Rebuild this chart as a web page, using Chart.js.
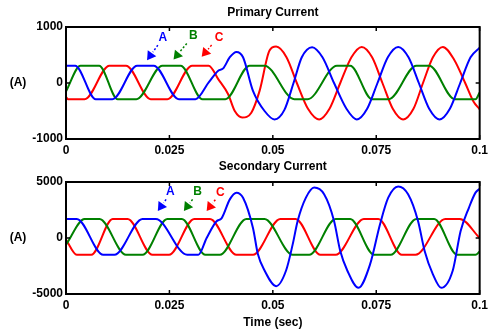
<!DOCTYPE html>
<html>
<head>
<meta charset="utf-8">
<title>Primary / Secondary Current</title>
<script src="https://cdn.jsdelivr.net/npm/chart.js@4.4.1/dist/chart.umd.min.js"></script>
<style>
  html, body { margin: 0; padding: 0; background: #fff; }
  #wrap { position: relative; width: 492px; height: 329px; }
  canvas { position: absolute; left: 0; }
  #cTop { top: 0; }
  #cBot { top: 160px; }
</style>
</head>
<body>
<div id="wrap">
  <canvas id="cTop" width="492" height="160"></canvas>
  <canvas id="cBot" width="492" height="169"></canvas>
</div>
<script>
// axis ticks
const xTicks = [0, 0.025, 0.05, 0.075, 0.1];
const xTickLabels = ['0', '0.025', '0.05', '0.075', '0.1'];
const yTicksTop = [-1000, 0, 1000];
const yTicksBot = [-5000, 0, 5000];

// Primary current (A) - phase A (blue)
const tPA = [0, 0.0022, 0.0072, 0.0112, 0.0172, 0.0212, 0.0273, 0.0313, 0.0345, 0.0368, 0.038, 0.0396, 0.0412, 0.0428, 0.0452, 0.048, 0.0504, 0.0528, 0.055, 0.057, 0.0595, 0.062, 0.0648, 0.0678, 0.0703, 0.0728, 0.0753, 0.0778, 0.0803, 0.0828, 0.0853, 0.0878, 0.0903, 0.0928, 0.0953, 0.0978, 0.1];
const iPA = [310, 310, -290, -290, 310, 310, -290, -290, 10, 220, 260, 460, 555, 460, -140, -500, -650, -480, 0, 460, 640, 460, 0, -460, -650, -460, 0, 460, 645, 460, 0, -460, -650, -460, 0, 460, 630];
// phase B (green)
const tPB = [0, 0.0035, 0.008, 0.0125, 0.017, 0.0233, 0.0277, 0.033, 0.0385, 0.0444, 0.048, 0.0552, 0.0584, 0.0655, 0.0687, 0.074, 0.078, 0.0847, 0.0878, 0.094, 0.099, 0.1];
const iPB = [-150, 310, 310, -290, -290, 310, 310, -290, -290, 310, 310, -290, -290, 310, 310, -290, -290, 310, 310, -290, -290, -170];
// phase C (red)
const tPC = [0, 0.0005, 0.0045, 0.0105, 0.0145, 0.0205, 0.0245, 0.0305, 0.0345, 0.0368, 0.0392, 0.0408, 0.0426, 0.0448, 0.0468, 0.0492, 0.0508, 0.0533, 0.0558, 0.0585, 0.0612, 0.0637, 0.0663, 0.069, 0.0715, 0.074, 0.0765, 0.079, 0.0815, 0.084, 0.0863, 0.0887, 0.0911, 0.0938, 0.0965, 0.0985, 0.1];
const iPC = [-250, -290, -290, 310, 310, -290, -290, 310, 310, 70, -200, -500, -615, -530, -140, 580, 650, 460, 0, -460, -650, -460, 0, 460, 645, 460, 0, -460, -650, -460, 0, 460, 645, 420, 0, -330, -470];

// Secondary current (A) - phase A (blue)
const tSA = [0, 0.0026, 0.009, 0.0117, 0.0185, 0.0217, 0.0293, 0.032, 0.034, 0.0364, 0.0376, 0.0396, 0.0412, 0.0428, 0.0452, 0.0464, 0.048, 0.0508, 0.0532, 0.0548, 0.056, 0.058, 0.06, 0.0624, 0.0648, 0.0663, 0.068, 0.0707, 0.0735, 0.0759, 0.0779, 0.0803, 0.0827, 0.0851, 0.0867, 0.0887, 0.0907, 0.0935, 0.0954, 0.0974, 0.099, 0.1];
const iSA = [1700, 1700, -1500, -1500, 1700, 1700, -1500, -1500, 0, 1500, 1750, 3450, 4050, 3600, 900, -1460, -2900, -4300, -2900, -570, 1520, 3600, 4500, 3900, 1520, -1160, -2900, -4450, -2360, 1210, 3600, 4600, 3900, 1520, -1160, -3250, -4450, -2900, 625, 2700, 4050, 4400];
// phase B (green)
const tSB = [0, 0.0045, 0.0081, 0.0145, 0.0185, 0.0245, 0.028, 0.0337, 0.0372, 0.0436, 0.048, 0.0548, 0.0588, 0.0652, 0.0687, 0.0745, 0.0785, 0.0847, 0.089, 0.0946, 0.099, 0.1];
const iSB = [-600, 1700, 1700, -1500, -1500, 1700, 1700, -1500, -1500, 1700, 1700, -1500, -1500, 1700, 1700, -1500, -1500, 1700, 1700, -1500, -1500, -1200];
// phase C (red)
const tSC = [0, 0.0026, 0.0061, 0.0113, 0.0149, 0.0209, 0.0249, 0.031, 0.0348, 0.0412, 0.0452, 0.0518, 0.0555, 0.0615, 0.0652, 0.072, 0.0755, 0.0812, 0.0845, 0.0917, 0.0952, 0.1];
const iSC = [-150, -1500, -1500, 1700, 1700, -1500, -1500, 1700, 1700, -1500, -1500, 1700, 1700, -1500, -1500, 1700, 1700, -1500, -1500, 1700, 1700, 0];

// arrow labels (data units: [time, current])
const notesTop = [
  { text: 'A', color: '#0000ff', at: [0.0234, 815], from: [0.0222, 677], to: [0.0196, 406] },
  { text: 'B', color: '#008000', at: [0.0308, 839], from: [0.0292, 707], to: [0.0260, 419] },
  { text: 'C', color: '#ff0000', at: [0.0370, 815], from: [0.0352, 677], to: [0.0328, 468] }
];
const notesBot = [
  { text: 'A', color: '#0000ff', at: [0.0252, 4134], from: [0.0242, 3446], to: [0.0222, 2411] },
  { text: 'B', color: '#008000', at: [0.0318, 4134], from: [0.0306, 3446], to: [0.0285, 2411] },
  { text: 'C', color: '#ff0000', at: [0.0373, 4045], from: [0.0361, 3420], to: [0.0340, 2411] }
];

const FAMILY = '"Liberation Sans", Arial, sans-serif';
const FONT = 'bold 12px ' + FAMILY;

const pts = (ts, vs) => ts.map((t, i) => ({ x: t, y: vs[i] }));
const series = (ts, vs, color) => ({
  data: pts(ts, vs), borderColor: color, borderWidth: 2, pointRadius: 0,
  fill: false, cubicInterpolationMode: 'monotone'
});

// frame, inward ticks, titles, arrows
const framePlugin = {
  id: 'frame',
  afterDatasetsDraw(chart, args, opts) {
    const { ctx, chartArea: a } = chart;
    const x = chart.scales.x, y = chart.scales.y;
    const line = (x0, y0, x1, y1) => { ctx.beginPath(); ctx.moveTo(x0, y0); ctx.lineTo(x1, y1); ctx.stroke(); };
    ctx.save();

    (opts.notes || []).forEach(n => {
      const x0 = x.getPixelForValue(n.from[0]), y0 = y.getPixelForValue(n.from[1]);
      const x1 = x.getPixelForValue(n.to[0]), y1 = y.getPixelForValue(n.to[1]);
      const ang = Math.atan2(y1 - y0, x1 - x0), hl = 10;
      ctx.strokeStyle = n.color; ctx.fillStyle = n.color;
      ctx.lineWidth = 1.5; ctx.setLineDash([2, 2]);
      line(x0, y0, x1 - hl * Math.cos(ang), y1 - hl * Math.sin(ang));
      ctx.setLineDash([]);
      ctx.beginPath();
      ctx.moveTo(x1, y1);
      ctx.lineTo(x1 - hl * Math.cos(ang - 0.55), y1 - hl * Math.sin(ang - 0.55));
      ctx.lineTo(x1 - hl * Math.cos(ang + 0.55), y1 - hl * Math.sin(ang + 0.55));
      ctx.closePath(); ctx.fill();
      ctx.font = FONT; ctx.textAlign = 'center'; ctx.textBaseline = 'middle';
      ctx.fillText(n.text, x.getPixelForValue(n.at[0]), y.getPixelForValue(n.at[1]));
    });

    ctx.strokeStyle = '#000'; ctx.lineWidth = 2;
    ctx.strokeRect(a.left, a.top, a.right - a.left, a.bottom - a.top);
    ctx.lineWidth = 1.5;
    x.ticks.forEach(t => {
      const p = x.getPixelForValue(t.value);
      line(p, a.top, p, a.top + 4); line(p, a.bottom, p, a.bottom - 4);
    });
    y.ticks.forEach(t => {
      const p = y.getPixelForValue(t.value);
      line(a.left, p, a.left + 4, p); line(a.right, p, a.right - 4, p);
    });

    ctx.fillStyle = '#000'; ctx.font = FONT;
    ctx.textAlign = 'center'; ctx.textBaseline = 'middle';
    ctx.fillText(opts.title, (a.left + a.right) / 2, a.top - opts.titleGap);
    ctx.fillText('(A)', 18, (a.top + a.bottom) / 2);
    if (opts.xTitle) ctx.fillText(opts.xTitle, (a.left + a.right) / 2, a.bottom + 29);
    ctx.restore();
  }
};

function makeChart(id, sets, yTicks, opts) {
  const yMax = yTicks[yTicks.length - 1];
  return new Chart(document.getElementById(id), {
    type: 'line',
    data: { datasets: sets },
    plugins: [framePlugin],
    options: {
      responsive: false, animation: false, devicePixelRatio: 1,
      layout: { padding: { top: opts.padTop, right: 8, left: 0, bottom: 0 } },
      plugins: {
        legend: { display: false }, tooltip: { enabled: false },
        frame: { notes: opts.notes, title: opts.title, titleGap: opts.titleGap, xTitle: opts.xTitle }
      },
      scales: {
        x: {
          type: 'linear', min: 0, max: 0.1,
          afterBuildTicks: s => { s.ticks = xTicks.map(v => ({ value: v })); },
          afterFit: s => { s.height = opts.xAxisH; },
          grid: { display: false, drawTicks: false }, border: { display: false },
          ticks: {
            callback: v => xTickLabels[xTicks.indexOf(v)],
            color: '#000', font: { family: FAMILY, size: 12, weight: 'bold' },
            padding: 4, maxRotation: 0, autoSkip: false
          }
        },
        y: {
          type: 'linear', min: -yMax, max: yMax,
          afterBuildTicks: s => { s.ticks = yTicks.map(v => ({ value: v })); },
          afterFit: s => { s.width = 66; },
          grid: { display: false, drawTicks: false }, border: { display: false },
          ticks: {
            callback: v => String(v),
            color: '#000', font: { family: FAMILY, size: 12, weight: 'bold' },
            padding: 3, autoSkip: false
          }
        }
      }
    }
  });
}

makeChart('cTop', [
  series(tPA, iPA, '#0000ff'),
  series(tPB, iPB, '#008000'),
  series(tPC, iPC, '#ff0000')
], yTicksTop, { padTop: 27, xAxisH: 21, title: 'Primary Current', titleGap: 14, notes: notesTop });

makeChart('cBot', [
  series(tSA, iSA, '#0000ff'),
  series(tSB, iSB, '#008000'),
  series(tSC, iSC, '#ff0000')
], yTicksBot, { padTop: 22, xAxisH: 35, title: 'Secondary Current', titleGap: 15, xTitle: 'Time (sec)', notes: notesBot });
</script>
</body>
</html>
